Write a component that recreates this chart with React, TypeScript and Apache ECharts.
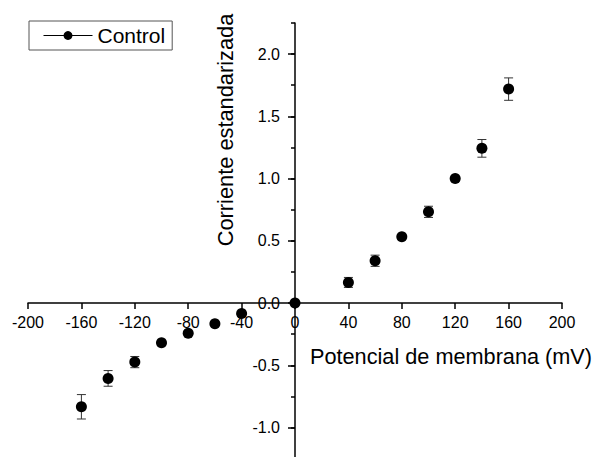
import React, { useEffect, useRef } from "react";
import * as echarts from "echarts";

const voltages = [-160, -140, -120, -100, -80, -60, -40, 0, 40, 60, 80, 100, 120, 140, 160];
const current = [-0.833, -0.605, -0.474, -0.319, -0.243, -0.166, -0.083, 0, 0.166, 0.34, 0.533, 0.733, 1.0, 1.243, 1.719];
const errors = [0.098, 0.063, 0.045, 0.02, 0.012, 0.012, 0.01, 0, 0.04, 0.045, 0.015, 0.045, 0.01, 0.071, 0.09];
const yMajorTicks = [-1.0, -0.5, 0.0, 0.5, 1.0, 1.5, 2.0];
const seriesName = "Control";
const xTitle = "Potencial de membrana (mV)";
const yTitle = "Corriente estandarizada";

const X_MIN = -200;
const X_MAX = 200;
const Y_MIN = -1.25;
const Y_MAX = 2.25;

const FONT = "'Liberation Sans', Arial, sans-serif";

export default function App() {
  const ref = useRef<HTMLDivElement>(null);
  useEffect(() => {
    if (!ref.current) return;
    const chart = echarts.init(ref.current, undefined, { renderer: "svg" });
    const points = voltages.map((v, i) => [v, current[i]]);
    const errData = voltages.map((v, i) => [v, current[i] - errors[i], current[i] + errors[i]]);
    const axisLineStyle = { color: "#000", width: 1.5 };

    const gridLeft = 28;
    const gridWidth = 534;
    const gridTop = 23;
    const gridHeight = 435.7;
    // place axes at the zero of the other axis
    const yAxisOffset = -gridWidth * (0 - X_MIN) / (X_MAX - X_MIN);
    const xAxisOffset = -gridHeight * (0 - Y_MIN) / (Y_MAX - Y_MIN);

    chart.setOption({
      animation: false,
      backgroundColor: "#fff",
      textStyle: { fontFamily: FONT },
      grid: {
        left: gridLeft,
        top: gridTop,
        width: gridWidth,
        height: gridHeight,
        outerBoundsMode: "none",
        containLabel: false,
      },
      legend: {
        show: true,
        left: 29,
        top: 21,
        orient: "horizontal",
        data: [seriesName],
        itemWidth: 49,
        itemHeight: 11,
        padding: [4, 7, 4, 14],
        borderColor: "#555",
        borderWidth: 1,
        backgroundColor: "#fff",
        textStyle: { fontSize: 21, color: "#000", fontFamily: FONT },
        lineStyle: { color: "#000", width: 1, opacity: 1 },
      },
      xAxis: {
        type: "value",
        min: X_MIN,
        max: X_MAX,
        interval: 40,
        position: "bottom",
        offset: xAxisOffset,
        axisLine: { onZero: false, lineStyle: axisLineStyle },
        axisTick: { show: true, inside: false, length: 6, lineStyle: { color: "#000", width: 1.5 } },
        axisLabel: { fontSize: 16, color: "#000", margin: 11, fontFamily: FONT, hideOverlap: false },
        splitLine: { show: false },
      },
      yAxis: [
        {
          type: "value",
          min: Y_MIN,
          max: Y_MAX,
          interval: 0.25,
          position: "left",
          offset: yAxisOffset,
          axisLine: { onZero: false, lineStyle: axisLineStyle },
          axisTick: { show: true, length: 4, lineStyle: { color: "#000", width: 1.5 } },
          axisLabel: { show: false },
          splitLine: { show: false },
        },
        {
          type: "value",
          min: Y_MIN,
          max: Y_MAX,
          position: "left",
          offset: yAxisOffset,
          axisLine: { show: false, onZero: false },
          axisTick: { show: true, length: 7, customValues: yMajorTicks, lineStyle: { color: "#000", width: 1.5 } },
          axisLabel: {
            customValues: yMajorTicks,
            fontSize: 16,
            color: "#000",
            margin: 15,
            fontFamily: FONT,
            hideOverlap: false,
            formatter: (v: number) => v.toFixed(1),
          },
          splitLine: { show: false },
        },
      ],
      series: [
        {
          type: "custom",
          name: "err",
          yAxisIndex: 0,
          z: 1,
          silent: true,
          data: errData,
          renderItem: (params: any, api: any) => {
            const x = api.value(0);
            const lo = api.coord([x, api.value(1)]);
            const hi = api.coord([x, api.value(2)]);
            const cap = 4.5;
            const style = { stroke: "#333", lineWidth: 1 };
            return {
              type: "group",
              children: [
                { type: "line", shape: { x1: lo[0], y1: lo[1], x2: hi[0], y2: hi[1] }, style },
                { type: "line", shape: { x1: lo[0] - cap, y1: lo[1], x2: lo[0] + cap, y2: lo[1] }, style },
                { type: "line", shape: { x1: hi[0] - cap, y1: hi[1], x2: hi[0] + cap, y2: hi[1] }, style },
              ],
            };
          },
        },
        {
          type: "line",
          name: seriesName,
          yAxisIndex: 0,
          z: 3,
          data: points,
          symbol: "circle",
          symbolSize: 11,
          showSymbol: true,
          itemStyle: { color: "#000" },
          lineStyle: { width: 0, opacity: 0 },
        },
      ],
      graphic: [
        {
          type: "text",
          x: 310,
          y: 356,
          style: { text: xTitle, fontSize: 21.7, fontFamily: FONT, fill: "#000", align: "left", verticalAlign: "middle" },
        },
        {
          type: "text",
          x: 225.5,
          y: 130,
          rotation: Math.PI / 2,
          style: { text: yTitle, fontSize: 21.8, fontFamily: FONT, fill: "#000", align: "center", verticalAlign: "middle" },
        },
      ],
    });
    return () => chart.dispose();
  }, []);
  return <div ref={ref} style={{ position: "fixed", left: 0, top: 0, width: 593, height: 457 }} />;
}
